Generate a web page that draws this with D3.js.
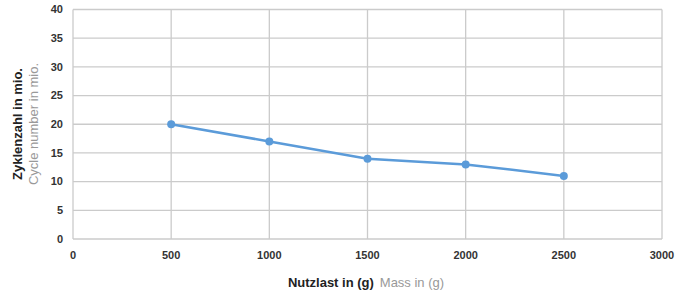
<!DOCTYPE html>
<html>
<head>
<meta charset="utf-8">
<script src="https://cdn.jsdelivr.net/npm/d3@7"></script>
<style>
  body { margin: 0; background: #fff; }
  text { font-family: "Liberation Sans", Arial, sans-serif; }
</style>
</head>
<body>
<svg id="chart" width="680" height="293"></svg>
<script>
// data
const masses = [500, 1000, 1500, 2000, 2500];
const cycles = [20, 17, 14, 13, 11];
const xTicks = [0, 500, 1000, 1500, 2000, 2500, 3000];
const yTicks = [0, 5, 10, 15, 20, 25, 30, 35, 40];

const svg = d3.select("#chart");
const margin = { left: 73, right: 18, top: 9.5, bottom: 54 };
const w = 680 - margin.left - margin.right;
const h = 293 - margin.top - margin.bottom;

const g = svg.append("g").attr("transform", `translate(${margin.left},${margin.top})`);

const x = d3.scaleLinear().domain([0, 3000]).range([0, w]);
const y = d3.scaleLinear().domain([0, 40]).range([h, 0]);

// grid lines
g.selectAll(".hgrid").data(yTicks).enter().append("line")
  .attr("x1", 0).attr("x2", w)
  .attr("y1", d => y(d)).attr("y2", d => y(d))
  .attr("stroke", "#cbcbcb").attr("stroke-width", 1.3);

g.selectAll(".vgrid").data(xTicks).enter().append("line")
  .attr("x1", d => x(d)).attr("x2", d => x(d))
  .attr("y1", 0).attr("y2", h)
  .attr("stroke", "#cbcbcb").attr("stroke-width", 1.3);

// tick labels
g.selectAll(".ylab").data(yTicks).enter().append("text")
  .attr("x", -10).attr("y", d => y(d)).attr("dy", "0.35em")
  .attr("text-anchor", "end")
  .attr("font-size", 11).attr("font-weight", "bold").attr("fill", "#333")
  .text(d => d);

g.selectAll(".xlab").data(xTicks).enter().append("text")
  .attr("x", d => x(d)).attr("y", h + 20)
  .attr("text-anchor", "middle")
  .attr("font-size", 11).attr("font-weight", "bold").attr("fill", "#333")
  .text(d => d);

// the series
const pts = masses.map((m, i) => [m, cycles[i]]);
g.append("path").datum(pts)
  .attr("fill", "none").attr("stroke", "#5b9bd9").attr("stroke-width", 2.5)
  .attr("d", d3.line().x(d => x(d[0])).y(d => y(d[1])));

g.selectAll(".dot").data(pts).enter().append("circle")
  .attr("cx", d => x(d[0])).attr("cy", d => y(d[1])).attr("r", 4)
  .attr("fill", "#5b9bd9");

// axis titles
const xt = svg.append("text")
  .attr("x", 366).attr("y", 287)
  .attr("text-anchor", "middle").attr("font-size", 13);
xt.append("tspan").attr("font-weight", "bold").attr("fill", "#222").text("Nutzlast in (g)");
xt.append("tspan").attr("fill", "#999").attr("dx", 6).text("Mass in (g)");

const yMid = 124;
svg.append("text")
  .attr("transform", `translate(21.5,${yMid}) rotate(-90)`)
  .attr("text-anchor", "middle").attr("font-size", 13)
  .attr("font-weight", "bold").attr("fill", "#222")
  .text("Zyklenzahl in mio.");
svg.append("text")
  .attr("transform", `translate(37.5,${yMid}) rotate(-90)`)
  .attr("text-anchor", "middle").attr("font-size", 13)
  .attr("fill", "#999")
  .text("Cycle number in mio.");
</script>
</body>
</html>
